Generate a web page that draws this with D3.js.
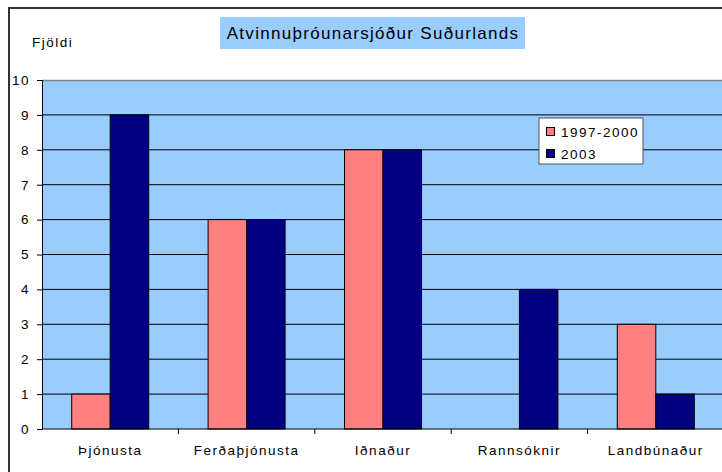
<!DOCTYPE html>
<html>
<head>
<meta charset="utf-8">
<script src="https://cdn.jsdelivr.net/npm/d3@7"></script>
<style>
  body { margin: 0; background: #fff; }
  svg { display: block; font-family: "Liberation Sans", Arial, sans-serif; }
</style>
</head>
<body>
<script>
// Stærð
const w = 722;
const h = 472;

// Gögn
const categories = ["Þjónusta", "Ferðaþjónusta", "Iðnaður", "Rannsóknir", "Landbúnaður"];
const seriesNames = ["1997-2000", "2003"];
const values1997 = [1, 6, 8, 0, 3];
const values2003 = [9, 6, 8, 4, 1];
const yTicks = [0, 1, 2, 3, 4, 5, 6, 7, 8, 9, 10];
const colors = ["#FF8080", "#000080"];

// Plot svæði
const plotLeft = 42, plotRight = 724, plotTop = 80, plotBottom = 429;
const fs = 13.5;      // leturstærð
const ls = 1.5;       // bil milli stafa

const svg = d3.select("body").append("svg").attr("width", w).attr("height", h);

// Ytri rammi
svg.append("path")
  .attr("d", "M9," + h + "V8H" + (w + 2))
  .attr("fill", "none")
  .attr("stroke", "#333")
  .attr("stroke-width", 2);

const xScale = d3.scaleBand().domain(categories).range([plotLeft, plotRight]);
const xInner = d3.scaleBand().domain(seriesNames).range([0, 77]);
const yScale = d3.scaleLinear().domain([0, 10]).range([plotBottom, plotTop]);

// Bakgrunnur
svg.append("rect")
  .attr("x", plotLeft).attr("y", plotTop)
  .attr("width", plotRight - plotLeft).attr("height", plotBottom - plotTop)
  .attr("fill", "#99CCFF");

// Hnitalínur
svg.append("g")
  .selectAll("line")
  .data(yTicks.filter(d => d > 0 && d < 10))
  .join("line")
  .attr("x1", plotLeft).attr("x2", plotRight)
  .attr("y1", d => yScale(d)).attr("y2", d => yScale(d))
  .attr("stroke", "#000").attr("stroke-width", 1);

svg.append("line")
  .attr("x1", plotLeft).attr("x2", plotRight)
  .attr("y1", plotTop + 0.5).attr("y2", plotTop + 0.5)
  .attr("stroke", "#808080").attr("stroke-width", 1.5);

// Súlur
const rows = categories.map((c, i) => [
  { cat: c, s: seriesNames[0], v: values1997[i], col: colors[0] },
  { cat: c, s: seriesNames[1], v: values2003[i], col: colors[1] }
]).flat();

svg.append("g")
  .selectAll("rect")
  .data(rows.filter(d => d.v > 0))
  .join("rect")
  .attr("x", d => xScale(d.cat) + (xScale.bandwidth() - 77) / 2 + xInner(d.s))
  .attr("y", d => yScale(d.v))
  .attr("width", xInner.bandwidth())
  .attr("height", d => yScale(0) - yScale(d.v))
  .attr("fill", d => d.col)
  .attr("stroke", "#000")
  .attr("stroke-width", 1);

// Ásar
const yAxis = d3.axisLeft(yScale).tickValues(yTicks).tickSize(5).tickPadding(7);
svg.append("g")
  .attr("transform", "translate(" + plotLeft + ",0)")
  .call(yAxis)
  .call(g => g.select(".domain").attr("stroke", "#000"))
  .call(g => g.selectAll("text").attr("font-size", fs).attr("fill", "#000")
    .attr("letter-spacing", ls)
    .attr("font-family", "Liberation Sans, Arial, sans-serif"));

const xAxis = d3.axisBottom(xScale).tickSize(0).tickPadding(16);
svg.append("g")
  .attr("transform", "translate(0," + plotBottom + ")")
  .call(xAxis)
  .call(g => g.select(".domain").remove())
  .call(g => g.selectAll("text").attr("font-size", fs).attr("fill", "#000")
    .attr("letter-spacing", ls)
    .attr("font-family", "Liberation Sans, Arial, sans-serif"));

svg.append("line")
  .attr("x1", plotLeft).attr("x2", plotRight)
  .attr("y1", plotBottom).attr("y2", plotBottom)
  .attr("stroke", "#000");

// Merkingar á milli flokka
svg.append("g")
  .selectAll("line")
  .data(categories.slice(1))
  .join("line")
  .attr("x1", d => xScale(d)).attr("x2", d => xScale(d))
  .attr("y1", plotBottom).attr("y2", plotBottom + 5)
  .attr("stroke", "#000");

// Titill
svg.append("rect")
  .attr("x", 220).attr("y", 17).attr("width", 305).attr("height", 32)
  .attr("fill", "#99CCFF");
svg.append("text")
  .attr("x", 373).attr("y", 39)
  .attr("text-anchor", "middle")
  .attr("font-size", 17)
  .attr("letter-spacing", 1.3)
  .text("Atvinnuþróunarsjóður Suðurlands");

svg.append("text")
  .attr("x", 32).attr("y", 47)
  .attr("font-size", fs)
  .attr("letter-spacing", ls)
  .text("Fjöldi");

// Skýringar
const legend = svg.append("g").attr("transform", "translate(539,118)");
legend.append("rect")
  .attr("width", 104).attr("height", 46)
  .attr("fill", "#fff").attr("stroke", "#555").attr("stroke-width", 1);
seriesNames.forEach((s, i) => {
  legend.append("rect")
    .attr("x", 7.5).attr("y", 9.5 + i * 22)
    .attr("width", 8).attr("height", 8)
    .attr("fill", colors[i]).attr("stroke", "#000");
  legend.append("text")
    .attr("x", 22).attr("y", 18.5 + i * 22)
    .attr("font-size", fs)
    .attr("letter-spacing", ls)
    .text(s);
});
</script>
</body>
</html>
